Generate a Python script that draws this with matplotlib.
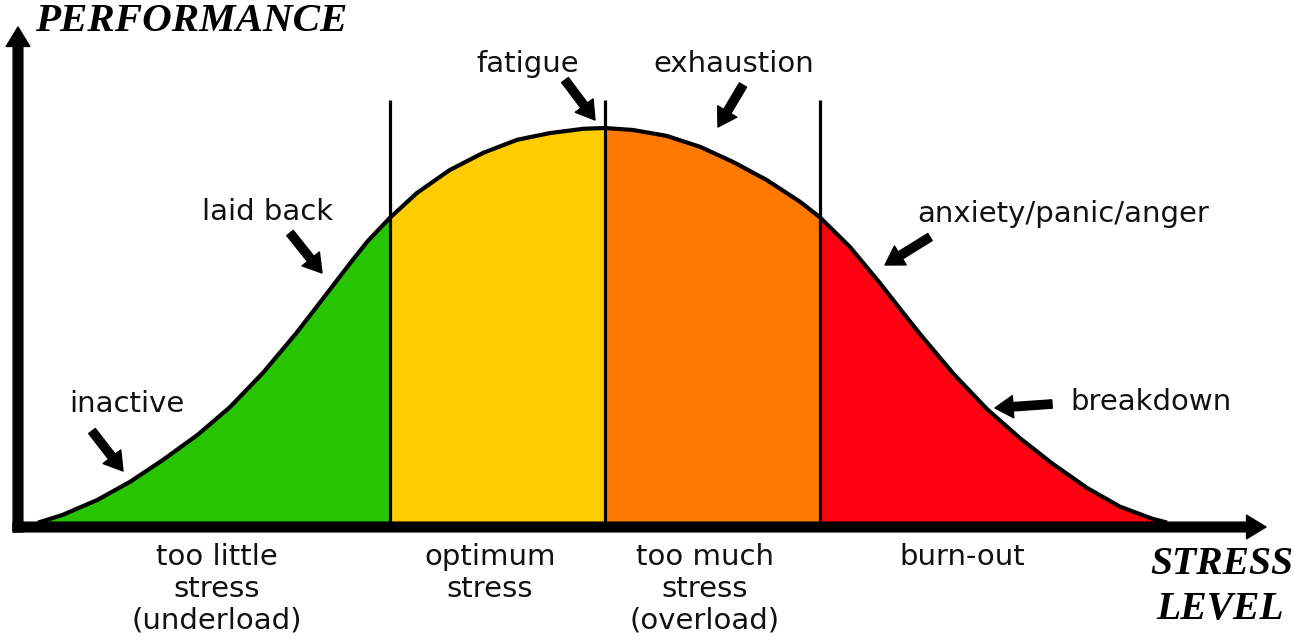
import numpy as np
import matplotlib
matplotlib.use("Agg")
import matplotlib.pyplot as plt

# ---- data ----
stress = [0, 0.9, 2.0, 5.1, 8.0, 10.9, 14.0, 16.9, 19.8, 22.8, 25.8, 27.6, 29.1,
          31.1, 33.5, 36.4, 39.4, 42.4, 45.3, 48.3, 50.2, 52.7, 55.7, 58.7, 61.6,
          64.6, 67.6, 69.3, 72.0, 74.7, 76.7, 78.2, 81.2, 84.2, 87.1, 90.0, 93.1,
          96.0, 98.9, 100]
performance = [0, 0.8, 1.8, 5.6, 10.2, 15.7, 22.1, 29.2, 37.8, 48.0, 59.1, 65.8, 71.2,
               77.2, 83.5, 89.3, 93.7, 97.0, 98.7, 99.8, 100, 99.5, 98.0, 95.2, 91.4,
               86.8, 81.2, 77.4, 69.8, 60.5, 53.2, 47.8, 37.6, 28.6, 21.3, 14.8, 8.6,
               3.9, 0.8, 0]
zone_bounds = [0, 31.1, 50.2, 69.3, 100]
zone_colors = ["#27C400", "#FFCC00", "#FF7800", "#FF0010"]
zone_labels = [["too little", "stress", "(underload)"],
               ["optimum", "stress"],
               ["too much", "stress", "(overload)"],
               ["burn-out"]]
notes = ["inactive", "laid back", "fatigue", "exhaustion", "anxiety/panic/anger", "breakdown"]

# ---- helpers: map reference pixel positions to data coords ----
def X(px):
    return (px - 40) / 11.25

def Y(py):
    return (522 - py) / 3.94

fig = plt.figure(figsize=(13.13, 6.42), dpi=100)
ax = fig.add_axes([0, 0, 1, 1])
ax.set_xlim(X(0), X(1313))
ax.set_ylim(Y(642), Y(0))
ax.axis("off")

s = np.array(stress)
p = np.array(performance)
for (a, b), c in zip(zip(zone_bounds[:-1], zone_bounds[1:]), zone_colors):
    m = (s >= a) & (s <= b)
    ax.fill_between(s[m], 0, p[m], color=c, lw=0, zorder=1)

ax.vlines(zone_bounds[1:-1], 0, Y(100), color="black", lw=2.3, zorder=3)
ax.plot(s, p, color="black", lw=3.0, solid_joinstyle="round", zorder=4)

# axes arrows
axis_style = "simple,head_length=1.4,head_width=1.7,tail_width=0.7"
ax.annotate("", xy=(X(1266), Y(527)), xytext=(X(13), Y(527)),
            arrowprops=dict(arrowstyle=axis_style, mutation_scale=10, color="black",
                            shrinkA=0, shrinkB=0), zorder=5)
ax.annotate("", xy=(X(18), Y(27)), xytext=(X(18), Y(532)),
            arrowprops=dict(arrowstyle=axis_style, mutation_scale=10, color="black",
                            shrinkA=0, shrinkB=0), zorder=5)

serif = dict(family="Liberation Serif", weight="bold", style="italic")
ax.text(X(35), Y(31), "PERFORMANCE", ha="left", va="baseline", fontsize=29.5, **serif)
ax.text(X(1222), Y(574), "STRESS", ha="center", va="baseline", fontsize=28.5, **serif)
ax.text(X(1220), Y(619), "LEVEL", ha="center", va="baseline", fontsize=28.5, **serif)

hand = dict(family="DejaVu Sans", fontsize=21, color="#111111")
note_pos = [(127, 412), (268, 220), (528, 72), (734, 72), (1063, 222), (1151, 410)]
for t, (x, y) in zip(notes, note_pos):
    ax.text(X(x), Y(y), t, ha="center", va="baseline", **hand)

label_cx = [217, 490, 705, 962]
baselines = [565, 597, 629]
for lines, cx in zip(zone_labels, label_cx):
    for ln, by in zip(lines, baselines):
        ax.text(X(cx), Y(by), ln, ha="center", va="baseline", **hand)

# small pointer arrows
pointers = [((92, 431), (123, 471)), ((290, 233), (322, 273)),
            ((565, 80), (595, 120)), ((743, 85), (718, 127)),
            ((930, 237), (885, 265)), ((1052, 404), (995, 408))]
pstyle = "simple,head_length=1.3,head_width=1.6,tail_width=0.6"
for (tx, ty), (hx, hy) in pointers:
    ax.annotate("", xy=(X(hx), Y(hy)), xytext=(X(tx), Y(ty)),
                arrowprops=dict(arrowstyle=pstyle, mutation_scale=10, color="black",
                                shrinkA=0, shrinkB=0), zorder=6)

fig.savefig("out.png", dpi=100)
